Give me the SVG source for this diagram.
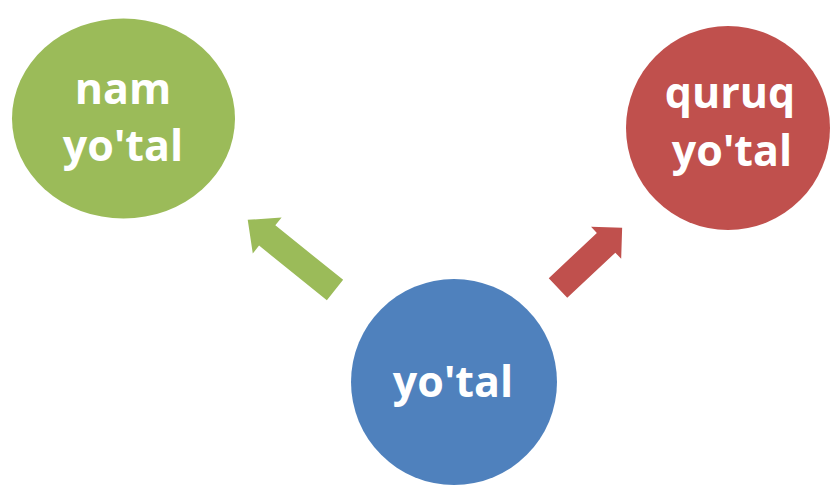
<svg xmlns="http://www.w3.org/2000/svg" width="830" height="490" viewBox="0 0 830 490">
<style>
.lbl{font-family:"Open Sans","Liberation Sans",sans-serif;font-weight:bold;font-size:43px;fill:#FFFFFF;text-anchor:middle}
</style>
<rect width="830" height="490" fill="#FFFFFF"/>
<g id="connectors">
<polygon points="0,-13 87,-13 87,-23 112,0 87,23 87,13 0,13" fill="#9BBB59" transform="translate(335,290) rotate(218.8)"/>
<polygon points="0,-13.5 66,-13.5 66,-22 88,0 66,22 66,13.5 0,13.5" fill="#C0504D" transform="translate(558,288) rotate(-43.2)"/>
</g>
<g id="nam-yotal">
<ellipse cx="123.5" cy="118.5" rx="111.5" ry="100" fill="#9BBB59"/>
<text class="lbl" x="123" y="104">nam</text>
<text class="lbl" x="123" y="161">yo'tal</text>
</g>
<g id="quruq-yotal">
<circle cx="728" cy="128" r="102" fill="#C0504D"/>
<text class="lbl" x="730" y="108" font-size="42">quruq</text>
<text class="lbl" x="732" y="166" font-size="42">yo'tal</text>
</g>
<g id="yotal">
<circle cx="454" cy="382" r="103" fill="#4F81BD"/>
<text class="lbl" x="453" y="397">yo'tal</text>
</g>
</svg>
